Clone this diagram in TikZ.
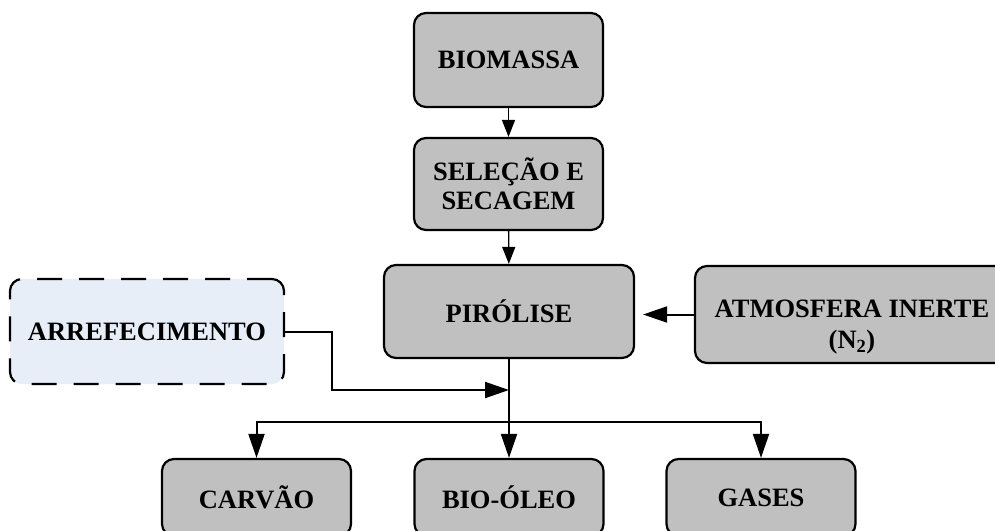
\documentclass[tikz,border=0pt]{standalone}
\usepackage{fontspec}
\setmainfont{Liberation Serif}
\usetikzlibrary{arrows.meta}
\definecolor{boxgray}{HTML}{C0C0C0}
\definecolor{paleblue}{HTML}{E7EEF8}
\begin{document}
\begin{tikzpicture}[x=1pt,y=-1pt,
  boxtext/.style={align=center, font=\fontsize{26.5}{29}\selectfont\bfseries, inner sep=0pt},
  box/.style={boxtext, draw=black, line width=2.2pt, rounded corners=12pt, fill=boxgray},
  dashbox/.style={box, fill=paleblue, dash pattern=on 25pt off 17pt},
  arrsmall/.style={draw=black, line width=1.4pt, -{Triangle[length=17pt,width=13pt]}},
  arrbig/.style={draw=black, line width=2pt, -{Triangle[length=24pt,width=16pt]}}]
\useasboundingbox (0,0) rectangle (995,530);
\node[box, minimum width=189pt, minimum height=94pt] (bio) at (508.5,60) {BIOMASSA};
\node[box, minimum width=189pt, minimum height=92pt] (sel) at (508.5,184) {SELEÇÃO E\\SECAGEM};
\node[box, minimum width=250pt, minimum height=93pt] (pir) at (509,311.5) {PIRÓLISE};
\node[box, minimum width=314pt, minimum height=97pt] (atm) at (852,314.5) {};
\node[boxtext] (atmtext) at (852,327) {ATMOSFERA INERTE\\[2pt](N\textsubscript{2})};
\node[dashbox, minimum width=274pt, minimum height=105pt] (arr) at (147,331.5) {ARREFECIMENTO};
\node[box, minimum width=189pt, minimum height=77pt] (carv) at (256.5,497.5) {CARVÃO};
\node[box, minimum width=189pt, minimum height=77pt] (oleo) at (509,497.5) {BIO-ÓLEO};
\node[box, minimum width=189pt, minimum height=77pt] (gas) at (761,497.5) {GASES};
\coordinate (j) at (509,390);
\coordinate (h) at (509,422);
\draw[arrsmall] (bio) -- (sel);
\draw[arrsmall] (sel) -- (pir);
\draw[arrbig, shorten >=8pt] (atm.west) -- (pir.east |- atm.west);
\draw[arrbig] (pir.south) -- (oleo.north);
\draw[arrbig] (h) -| (carv.north);
\draw[arrbig] (h) -| (gas.north);
\draw[arrbig] (arr.east) -- ++(47,0) |- (j);
\end{tikzpicture}
\end{document}
